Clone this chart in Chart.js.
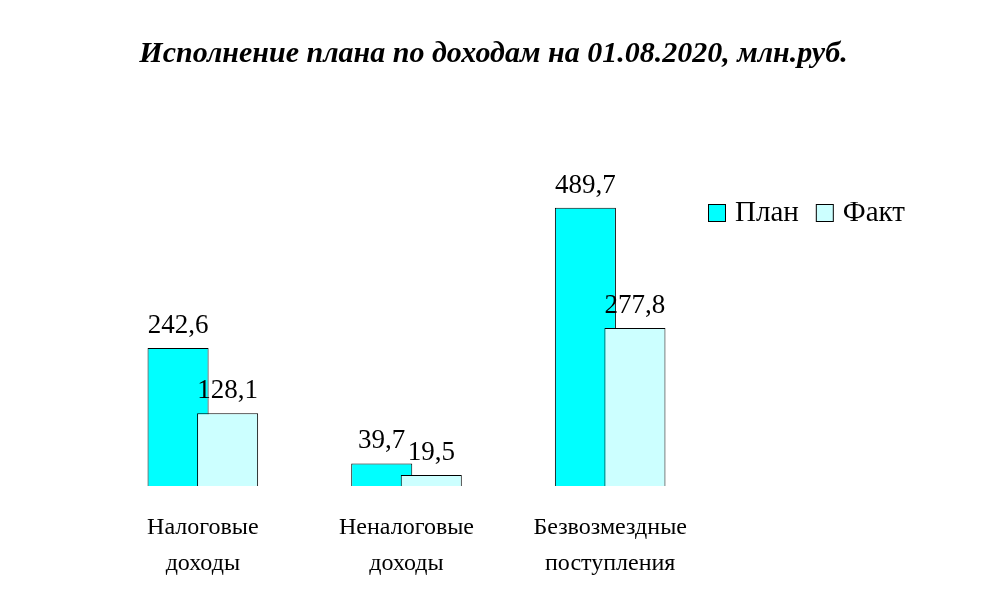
<!DOCTYPE html>
<html>
<head>
<meta charset="utf-8">
<script src="https://cdn.jsdelivr.net/npm/chart.js@4/dist/chart.umd.min.js"></script>
<style>
    html, body { margin: 0; padding: 0; background: #fff; }
    #wrap { width: 987px; height: 606px; position: relative; }
</style>
</head>
<body>
<div id="wrap"><canvas id="incomeChart"></canvas></div>
<script>
// Chart data
const categories = [
    ['Налоговые', 'доходы'],
    ['Неналоговые', 'доходы'],
    ['Безвозмездные', 'поступления']
];
const planValues = [242.6, 39.7, 489.7];
const factValues = [128.1, 19.5, 277.8];
const seriesNames = ['План', 'Факт'];
const chartTitle = 'Исполнение плана по доходам на 01.08.2020, млн.руб.';

const serif = "'Liberation Serif', 'Times New Roman', serif";

// Format value with comma as decimal separator
function formatValue(v) {
    return v.toFixed(1).replace('.', ',');
}

/**
 * Draw datasets in index order so the second bar overlaps the first,
 * then title (centered on the whole canvas), value labels and a horizontal legend
 */
const overlapPlugin = {
    id: 'overlapBars',
    beforeDatasetsDraw(chart) {
        chart.data.datasets.forEach((ds, i) => {
            chart.getDatasetMeta(i).controller.draw();
        });
        return false;
    },
    afterDraw(chart) {
        const ctx = chart.ctx;
        ctx.save();

        // Title
        ctx.fillStyle = '#000';
        ctx.font = `italic bold 30px ${serif}`;
        ctx.textAlign = 'center';
        ctx.textBaseline = 'alphabetic';
        ctx.fillText(chartTitle, chart.width / 2, 62);

        // Value labels above bars
        ctx.font = `27px ${serif}`;
        chart.data.datasets.forEach((ds, i) => {
            chart.getDatasetMeta(i).data.forEach((bar, j) => {
                ctx.fillText(formatValue(ds.data[j]), bar.x, bar.y - 15);
            });
        });

        // Legend
        ctx.font = `29px ${serif}`;
        ctx.textAlign = 'left';
        let x = chart.chartArea.right - 4;
        const y = 204;
        chart.data.datasets.forEach(ds => {
            ctx.fillStyle = ds.backgroundColor;
            ctx.fillRect(x + 0.5, y + 0.5, 17, 17);
            ctx.strokeStyle = '#000';
            ctx.lineWidth = 1;
            ctx.strokeRect(x + 0.5, y + 0.5, 17, 17);
            ctx.fillStyle = '#000';
            ctx.fillText(ds.label, x + 27, y + 17);
            x += 27 + ctx.measureText(ds.label).width + 17;
        });

        ctx.restore();
    }
};

new Chart(document.getElementById('incomeChart'), {
    type: 'bar',
    data: {
        labels: categories,
        datasets: [
            {
                label: seriesNames[0],
                data: planValues,
                backgroundColor: '#00FFFF',
                borderColor: '#000',
                borderWidth: 1,
                categoryPercentage: 0.4865,
                barPercentage: 1.232
            },
            {
                label: seriesNames[1],
                data: factValues,
                backgroundColor: '#CCFFFF',
                borderColor: '#000',
                borderWidth: 1,
                categoryPercentage: 0.4865,
                barPercentage: 1.232
            }
        ]
    },
    options: {
        responsive: true,
        maintainAspectRatio: false,
        animation: false,
        devicePixelRatio: 1,
        layout: {
            padding: { left: 101, right: 275, top: 145, bottom: 0 }
        },
        plugins: {
            legend: { display: false },
            tooltip: { enabled: false },
            title: { display: false }
        },
        scales: {
            x: {
                grid: { display: false, drawTicks: false },
                border: { display: false },
                ticks: {
                    color: '#000',
                    padding: 24,
                    font: { family: serif, size: 24, lineHeight: 1.5 }
                }
            },
            y: {
                display: false,
                min: 0,
                max: 600
            }
        }
    },
    plugins: [overlapPlugin]
});
</script>
</body>
</html>
